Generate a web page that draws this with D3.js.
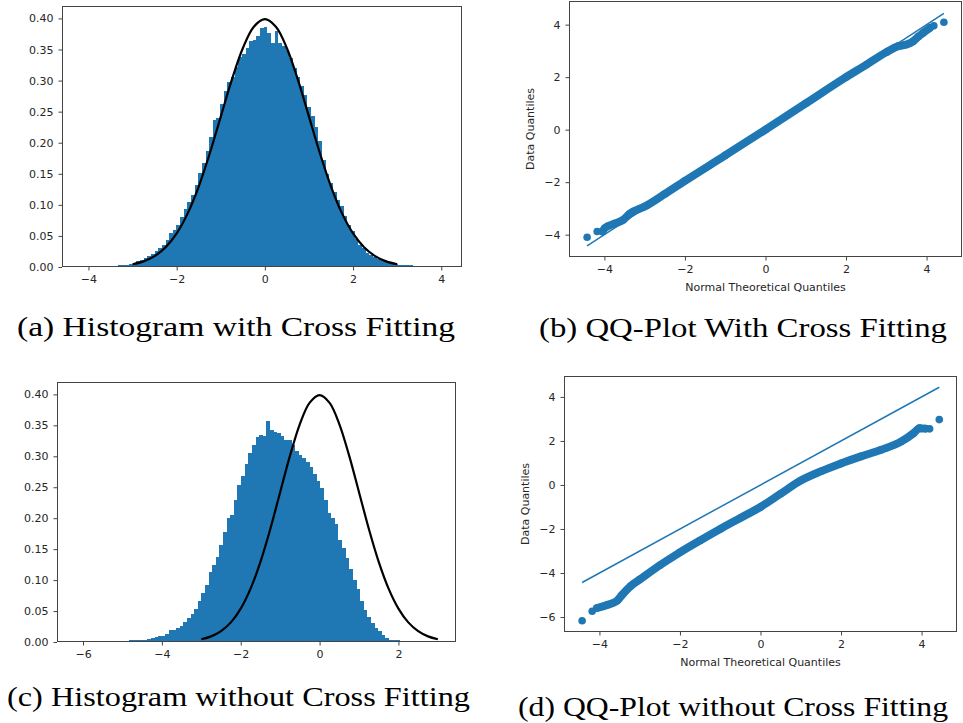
<!DOCTYPE html>
<html>
<head>
<meta charset="utf-8">
<script src="https://cdn.jsdelivr.net/npm/d3@7"></script>
<style>
  body { margin: 0; background: #fff; }
  svg { display: block; }
  .tick text { font-family: 'DejaVu Sans', sans-serif; font-size: 11px; fill: #262626; }
  .tick line { stroke: #444; }
  .axis-label { font-family: 'DejaVu Sans', sans-serif; font-size: 11px; fill: #262626; }
  .caption { font-family: 'Liberation Serif', 'DejaVu Serif', serif; font-size: 28px; fill: #000; }
</style>
</head>
<body>
<div id="wrapper"></div>
<script>
// 1. Data

// density histogram, 100 bins, with cross fitting
const histWithCFStart = -4.15;
const histWithCFWidth = 0.0825;
const histWithCF = [
  0, 0, 0, 0, 0, 0.0005, 0.001, 0.001, 0.001, 0.002,
  0.003, 0.004, 0.004, 0.005, 0.007, 0.009, 0.011, 0.014, 0.017, 0.021,
  0.026, 0.030, 0.036, 0.044, 0.054, 0.060, 0.068, 0.081, 0.093, 0.104,
  0.116, 0.132, 0.152, 0.168, 0.186, 0.210, 0.236, 0.240, 0.262, 0.284,
  0.298, 0.306, 0.322, 0.338, 0.343, 0.352, 0.363, 0.366, 0.372, 0.384,
  0.387, 0.377, 0.361, 0.380, 0.360, 0.356, 0.350, 0.336, 0.320, 0.305,
  0.292, 0.276, 0.258, 0.243, 0.226, 0.202, 0.172, 0.150, 0.135, 0.120,
  0.108, 0.098, 0.082, 0.068, 0.058, 0.045, 0.036, 0.030, 0.023, 0.019,
  0.016, 0.013, 0.011, 0.009, 0.008, 0.006, 0.005, 0.004, 0.003, 0.003,
  0.003, 0.002, 0.001, 0.0005, 0, 0, 0, 0, 0, 0,
];

// density histogram, 100 bins, without cross fitting
const histNoCFStart = -6.2;
const histNoCFWidth = 0.0915;
const histNoCF = [
  0, 0, 0, 0, 0, 0, 0, 0, 0.001, 0.002,
  0.001, 0.002, 0.001, 0.002, 0.002, 0.003, 0.003, 0.004, 0.004, 0.004,
  0.005, 0.006, 0.008, 0.009, 0.010, 0.013, 0.019, 0.020, 0.022, 0.026,
  0.032, 0.038, 0.046, 0.054, 0.066, 0.079, 0.092, 0.113, 0.124, 0.138,
  0.156, 0.178, 0.200, 0.205, 0.229, 0.253, 0.268, 0.288, 0.305, 0.318,
  0.331, 0.334, 0.332, 0.357, 0.343, 0.340, 0.337, 0.333, 0.326, 0.326,
  0.318, 0.308, 0.302, 0.297, 0.291, 0.283, 0.272, 0.260, 0.248, 0.230,
  0.209, 0.200, 0.190, 0.164, 0.152, 0.136, 0.118, 0.100, 0.086, 0.066,
  0.052, 0.041, 0.031, 0.022, 0.018, 0.012, 0.006, 0.004, 0.003, 0.003,
  0.002, 0.002, 0.001, 0.0005, 0, 0, 0, 0, 0, 0.0005,
];

// black reference density curve
const curveX = [-3, -2.75, -2.5, -2.25, -2, -1.75, -1.5, -1.25, -1, -0.75, -0.5, -0.25, 0,
  0.25, 0.5, 0.75, 1, 1.25, 1.5, 1.75, 2, 2.25, 2.5, 2.75, 3];
const curveY = [0.0044, 0.0091, 0.0175, 0.0317, 0.054, 0.0863, 0.1295, 0.1826, 0.242, 0.3011,
  0.3521, 0.3867, 0.3989, 0.3867, 0.3521, 0.3011, 0.242, 0.1826, 0.1295, 0.0863, 0.054,
  0.0317, 0.0175, 0.0091, 0.0044];

// QQ plot with cross fitting: theoretical vs data quantiles
const qqWithCFTheo = [-4.43, -4.18, -4.05, -3.99, -3.75, -3.53, -3.37, -3.0, -2.5, -2.0, -1.0, 0,
  1.0, 2.0, 2.5, 3.0, 3.3, 3.5, 3.66, 3.8, 3.91, 4.08, 4.18, 4.43];
const qqWithCFData = [-4.10, -3.88, -3.88, -3.75, -3.58, -3.43, -3.20, -2.93, -2.45, -1.95, -0.98, 0,
  1.0, 2.0, 2.47, 2.95, 3.18, 3.24, 3.36, 3.55, 3.68, 3.87, 3.96, 4.09];

// QQ plot without cross fitting
const qqNoCFTheo = [-4.43, -4.18, -4.06, -3.81, -3.56, -3.44, -3.23, -3.0, -2.5, -2.0, -1.5, -1.0,
  -0.5, 0, 0.5, 1.0, 1.5, 2.0, 2.5, 3.0, 3.5, 3.8, 3.95, 4.1, 4.2, 4.44];
const qqNoCFData = [-6.17, -5.74, -5.59, -5.45, -5.26, -5.0, -4.6, -4.3, -3.65, -3.06, -2.52, -2.0,
  -1.5, -1.0, -0.4, 0.2, 0.62, 0.98, 1.3, 1.6, 1.98, 2.35, 2.58, 2.56, 2.55, 2.97];

const captions = [
  '(a) Histogram with Cross Fitting',
  '(b) QQ-Plot With Cross Fitting',
  '(c) Histogram without Cross Fitting',
  '(d) QQ-Plot without Cross Fitting',
];

// 2. Dimensions

const dimensions = { width: 963, height: 723 };
const blue = '#1f77b4';

const wrapper = d3
  .select('#wrapper')
  .append('svg')
  .attr('width', dimensions.width)
  .attr('height', dimensions.height);

function drawAxes(bounds, box, xScale, yScale, xTicks, yTicks, yFormat) {
  const xAxis = d3.axisBottom(xScale).tickValues(xTicks).tickFormat(d3.format('d'))
    .tickSize(3.5).tickPadding(5);
  const yAxis = d3.axisLeft(yScale).tickValues(yTicks).tickFormat(yFormat)
    .tickSize(3.5).tickPadding(5);

  const gx = bounds.append('g').attr('transform', `translate(0,${box.h})`).call(xAxis);
  const gy = bounds.append('g').call(yAxis);
  gx.select('.domain').remove();
  gy.select('.domain').remove();

  bounds
    .append('rect')
    .attr('x', 0.5)
    .attr('y', 0.5)
    .attr('width', box.w - 1)
    .attr('height', box.h - 1)
    .attr('fill', 'none')
    .attr('stroke', '#444')
    .attr('stroke-width', 1);
}

function drawHistogram(box, heights, binStart, binWidth, xDomain, xTicks) {
  const bounds = wrapper.append('g').attr('transform', `translate(${box.x},${box.y})`);

  const xScale = d3.scaleLinear().domain(xDomain).range([0, box.w]);
  const yScale = d3.scaleLinear().domain([0, 0.42]).range([box.h, 0]);

  const bins = heights.map((h, i) => ({
    x0: binStart + i * binWidth,
    x1: binStart + (i + 1) * binWidth,
    h: h,
  }));

  bounds
    .append('g')
    .attr('shape-rendering', 'crispEdges')
    .selectAll('rect')
    .data(bins.filter((d) => d.h > 0))
    .join('rect')
    .attr('x', (d) => Math.round(xScale(d.x0)))
    .attr('width', (d) => Math.round(xScale(d.x1)) - Math.round(xScale(d.x0)))
    .attr('y', (d) => yScale(d.h))
    .attr('height', (d) => box.h - yScale(d.h))
    .attr('fill', blue);

  const lineGenerator = d3
    .line()
    .x((d, i) => xScale(curveX[i]))
    .y((d) => yScale(d))
    .curve(d3.curveCatmullRom);

  bounds
    .append('path')
    .attr('d', lineGenerator(curveY))
    .attr('fill', 'none')
    .attr('stroke', '#000')
    .attr('stroke-width', 2.2);

  drawAxes(bounds, box, xScale, yScale, xTicks, d3.range(0, 0.41, 0.05), d3.format('.2f'));
}

function drawQQ(box, theo, data, xDomain, yDomain, yTicks, labelOffset) {
  const bounds = wrapper.append('g').attr('transform', `translate(${box.x},${box.y})`);

  const xScale = d3.scaleLinear().domain(xDomain).range([0, box.w]);
  const yScale = d3.scaleLinear().domain(yDomain).range([box.h, 0]);

  const points = theo.map((t, i) => [t, data[i]]);

  // dense band of overlapping markers
  const bandGenerator = d3
    .line()
    .x((d) => xScale(d[0]))
    .y((d) => yScale(d[1]))
    .curve(d3.curveMonotoneX);

  bounds
    .append('path')
    .attr('d', bandGenerator(points.slice(2, -2)))
    .attr('fill', 'none')
    .attr('stroke', blue)
    .attr('stroke-width', 8)
    .attr('stroke-linecap', 'round')
    .attr('stroke-linejoin', 'round');

  bounds
    .append('g')
    .selectAll('circle')
    .data(points)
    .join('circle')
    .attr('cx', (d) => xScale(d[0]))
    .attr('cy', (d) => yScale(d[1]))
    .attr('r', 3.8)
    .attr('fill', blue);

  // 45 degree reference line
  const [lo, hi] = d3.extent(theo);
  bounds
    .append('line')
    .attr('x1', xScale(lo))
    .attr('y1', yScale(lo))
    .attr('x2', xScale(hi))
    .attr('y2', yScale(hi))
    .attr('stroke', blue)
    .attr('stroke-width', 1.5);

  drawAxes(bounds, box, xScale, yScale, [-4, -2, 0, 2, 4], yTicks, d3.format('d'));

  bounds
    .append('text')
    .attr('class', 'axis-label')
    .attr('x', box.w / 2)
    .attr('y', box.h + 34)
    .attr('text-anchor', 'middle')
    .text('Normal Theoretical Quantiles');

  bounds
    .append('text')
    .attr('class', 'axis-label')
    .attr('transform', `translate(${-labelOffset},${box.h / 2}) rotate(-90)`)
    .attr('text-anchor', 'middle')
    .text('Data Quantiles');
}

// 3. Draw panels

drawHistogram({ x: 62, y: 6, w: 400, h: 261 }, histWithCF, histWithCFStart, histWithCFWidth,
  [-4.6, 4.47], [-4, -2, 0, 2, 4]);
drawQQ({ x: 569, y: 1, w: 393, h: 256 }, qqWithCFTheo, qqWithCFData,
  [-4.88, 4.88], [-4.85, 4.9], [-4, -2, 0, 2, 4], 35);
drawHistogram({ x: 57, y: 382, w: 399, h: 260 }, histNoCF, histNoCFStart, histNoCFWidth,
  [-6.66, 3.46], [-6, -4, -2, 0, 2]);
drawQQ({ x: 564, y: 376, w: 393, h: 256 }, qqNoCFTheo, qqNoCFData,
  [-4.88, 4.88], [-6.68, 4.95], [-6, -4, -2, 0, 2, 4], 35);

// 4. Captions

const captionSpots = [
  { x0: 17, x1: 455, y: 336 },
  { x0: 539, x1: 947, y: 337 },
  { x0: 7, x1: 470, y: 706 },
  { x0: 518, x1: 948, y: 716 },
];

wrapper
  .append('g')
  .selectAll('text')
  .data(captions)
  .join('text')
  .attr('class', 'caption')
  .attr('x', (d, i) => captionSpots[i].x0)
  .attr('y', (d, i) => captionSpots[i].y)
  .attr('textLength', (d, i) => captionSpots[i].x1 - captionSpots[i].x0)
  .attr('lengthAdjust', 'spacingAndGlyphs')
  .text((d) => d);
</script>
</body>
</html>
